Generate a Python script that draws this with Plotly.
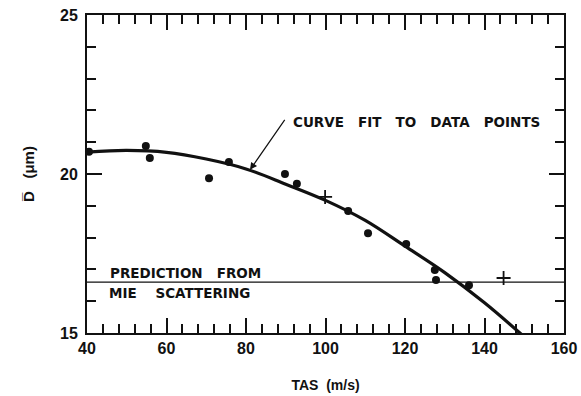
import plotly.graph_objects as go

# ---- data ----
x_range = [40, 160]
y_range = [15, 25]

dots_x = [40.5, 54.8, 55.8, 70.7, 75.7, 89.8, 92.8, 105.7, 110.7, 120.3, 127.5, 127.8, 136.1]
dots_y = [20.70, 20.88, 20.50, 19.87, 20.38, 20.00, 19.69, 18.84, 18.14, 17.80, 16.98, 16.67, 16.50]

plus_x = [99.9, 144.8]
plus_y = [19.28, 16.73]

curve_x = [40, 50, 60, 70, 80, 90, 100, 110, 120, 130, 140, 150]
curve_y = [20.69, 20.74, 20.68, 20.47, 20.16, 19.68, 19.17, 18.54, 17.73, 16.90, 15.95, 14.88]

mie_level = 16.6

x_ticks = [40, 60, 80, 100, 120, 140, 160]
y_ticks = [15, 20, 25]

FONT = "Liberation Sans"
ANN_FONT = "DejaVu Sans"
INK = "#111111"

fig = go.Figure()

fig.add_trace(go.Scatter(x=x_range, y=[mie_level, mie_level], mode="lines",
                         line=dict(color=INK, width=1.3), hoverinfo="skip"))
fig.add_trace(go.Scatter(x=curve_x, y=curve_y, mode="lines",
                         line=dict(color=INK, width=3.2, shape="spline", smoothing=1.0)))
fig.add_trace(go.Scatter(x=dots_x, y=dots_y, mode="markers", cliponaxis=False,
                         marker=dict(symbol="circle", size=8, color=INK)))
fig.add_trace(go.Scatter(x=plus_x, y=plus_y, mode="markers", cliponaxis=False,
                         marker=dict(symbol="cross-thin", size=10,
                                     line=dict(color=INK, width=1.8))))

ann_font = dict(family=ANN_FONT, size=13.5, color=INK, weight="bold")
gap = "\u00a0\u00a0\u00a0"
fig.add_annotation(x=91.3, y=21.64, xref="x", yref="y", xanchor="left", yanchor="middle",
                   text=gap.join(["CURVE", "FIT", "TO", "DATA", "POINTS"]), showarrow=False,
                   font=ann_font)
fig.add_annotation(x=81.0, y=20.13, ax=90.0, ay=21.75, xref="x", yref="y",
                   axref="x", ayref="y", text="", showarrow=True,
                   arrowhead=2, arrowsize=1.2, arrowwidth=1.2, arrowcolor=INK)
fig.add_annotation(x=45.3, y=16.89, xref="x", yref="y", xanchor="left", yanchor="middle",
                   text=gap.join(["PREDICTION", "FROM"]), showarrow=False, font=ann_font)
fig.add_annotation(x=45.0, y=16.26, xref="x", yref="y", xanchor="left", yanchor="middle",
                   text=(gap + "\u00a0").join(["MIE", "SCATTERING"]), showarrow=False,
                   font=ann_font)

tick_font = dict(family=FONT, size=16, color=INK, weight="bold")
axis_common = dict(showgrid=False, zeroline=False, showline=True, linecolor=INK,
                   linewidth=2, mirror="ticks", ticks="inside", tickcolor=INK,
                   tickwidth=1.5, ticklen=15, tickfont=tick_font)

fig.update_xaxes(range=x_range, tickvals=x_ticks, ticktext=[str(v) for v in x_ticks],
                 minor=dict(dtick=4, tick0=40, ticks="inside", ticklen=9,
                            tickwidth=1.5, tickcolor=INK, showgrid=False),
                 title=dict(text="TAS\u00a0 (m/s)", font=dict(family=FONT, size=14, color=INK,
                                                        weight="bold"), standoff=24),
                 **axis_common)
fig.update_yaxes(range=y_range, tickvals=y_ticks, ticktext=[str(v) for v in y_ticks],
                 minor=dict(dtick=1, tick0=15, ticks="inside", ticklen=9,
                            tickwidth=1.5, tickcolor=INK, showgrid=False),
                 ticklabelstandoff=4,
                 title=dict(text="D\u0305\u00a0\u00a0 (\u03bcm)",
                            font=dict(family=FONT, size=15, color=INK, weight="bold"),
                            standoff=22),
                 **axis_common)

fig.update_layout(width=581, height=396, showlegend=False,
                  plot_bgcolor="white", paper_bgcolor="white",
                  margin=dict(l=87, r=17, t=15, b=63, autoexpand=False))

fig.write_html("out.html")
